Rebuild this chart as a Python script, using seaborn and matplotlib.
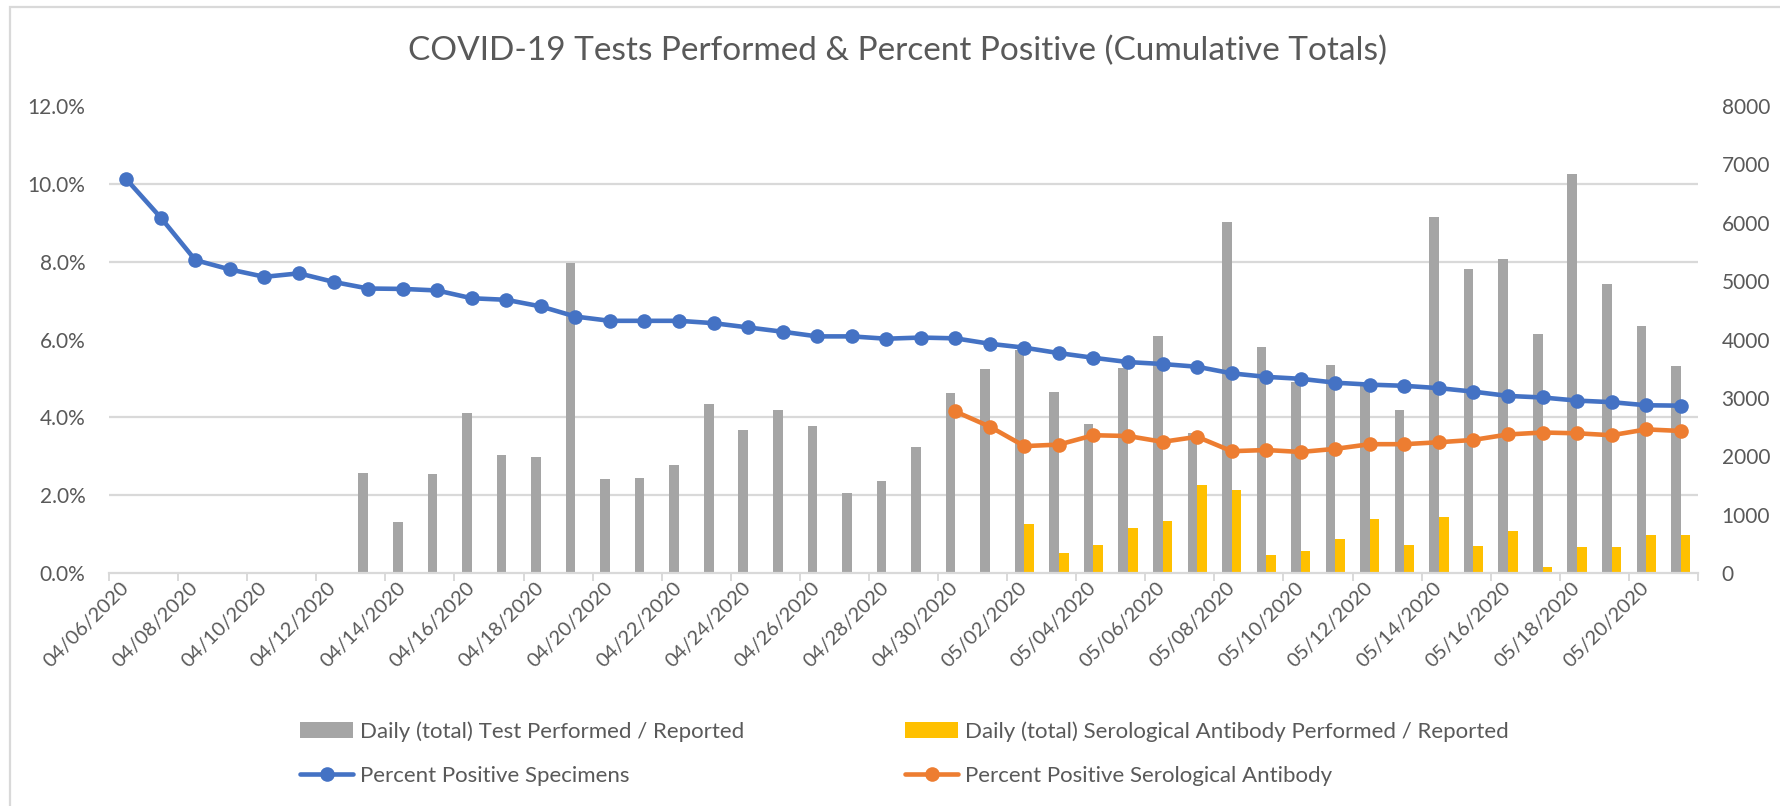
import matplotlib
matplotlib.use("Agg")
import matplotlib.pyplot as plt
from matplotlib.lines import Line2D
from matplotlib.patches import Patch, Rectangle
from matplotlib.ticker import FuncFormatter
import numpy as np
import pandas as pd
import seaborn as sns

# dates on the category axis
dates = list(pd.date_range("2020-04-06", "2020-05-21").strftime("%m/%d/%Y"))

# daily tests (right axis), none reported before 04/13
tests = [np.nan] * 7 + [1720, 870, 1695, 2745, 2015, 1995, 5315, 1610, 1625, 1855,
                        2895, 2455, 2785, 2525, 1370, 1575, 2155, 3085, 3495, 3820,
                        3100, 2550, 3505, 4055, 2395, 6015, 3870, 3280, 3555, 3200,
                        2785, 6105, 5200, 5375, 4100, 6830, 4950, 4225, 3545]

# daily serological tests, starting 05/02
serology = [np.nan] * 26 + [840, 350, 475, 770, 890, 1505, 1420, 310, 385, 575,
                            930, 480, 965, 460, 720, 105, 450, 440, 650, 645]

# cumulative percent positive (left axis)
pct_specimens = [10.12, 9.13, 8.04, 7.80, 7.61, 7.70, 7.48, 7.31, 7.30, 7.26,
                 7.06, 7.02, 6.85, 6.59, 6.48, 6.48, 6.48, 6.42, 6.31, 6.20,
                 6.08, 6.08, 6.02, 6.05, 6.03, 5.89, 5.79, 5.65, 5.53, 5.42,
                 5.37, 5.30, 5.13, 5.04, 4.99, 4.89, 4.84, 4.81, 4.75, 4.66,
                 4.55, 4.51, 4.43, 4.39, 4.31, 4.30]

# serological percent positive, starting 04/30
sero_start = 24
pct_serology = [4.15, 3.76, 3.26, 3.30, 3.54, 3.52, 3.37, 3.50, 3.13, 3.16, 3.11,
                3.19, 3.31, 3.31, 3.36, 3.42, 3.56, 3.61, 3.59, 3.54, 3.69, 3.65]

lab_tests = "Daily (total) Test Performed / Reported"
lab_sero = "Daily (total) Serological Antibody Performed / Reported"
lab_pct = "Percent Positive Specimens"
lab_pct_sero = "Percent Positive Serological Antibody"

GREY = "#A5A5A5"
YELLOW = "#FFC000"
BLUE = "#4472C4"
ORANGE = "#ED7D31"
GRID = "#D9D9D9"
TXT = "#595959"

sns.set_theme(style="white")
plt.rcParams["font.family"] = ["Lato", "DejaVu Sans"]
plt.rcParams["text.color"] = TXT

bars = pd.DataFrame({
    "date": dates * 2,
    "count": tests + serology,
    "series": [lab_tests] * len(dates) + [lab_sero] * len(dates),
})

W, H = 1781, 806
fig = plt.figure(figsize=(W / 100, H / 100), dpi=100)
ax = fig.add_axes([109 / W, 1 - 573 / H, (1698 - 109) / W, (573 - 106) / H])

sns.barplot(data=bars, x="date", y="count", hue="series", order=dates,
            hue_order=[lab_tests, lab_sero], palette=[GREY, YELLOW],
            width=0.556, saturation=1, errorbar=None, linewidth=0,
            legend=False, ax=ax)

n = len(dates)
ax2 = ax.twinx()

ax.set_xlim(-0.5, n - 0.5)
ax.set_ylim(0, 8000)
ax.set_yticks(np.arange(0, 8001, 1000))
ax.tick_params(axis="y", length=0, pad=17, labelsize=15, labelcolor=TXT)
# gridlines follow the percent axis (every 2%)
ax.set_yticks(np.linspace(0, 8000, 7)[1:], minor=True)
ax.grid(False)
ax.grid(which="minor", axis="y", color=GRID, linewidth=1.6)
ax.tick_params(axis="y", which="minor", length=0)
ax.set_axisbelow(True)

# tick marks between every two days, labels on every second day
ax.set_xticks(np.arange(-0.5, n, 2), labels=[""] * len(np.arange(-0.5, n, 2)))
ax.tick_params(axis="x", which="major", length=6, width=1.4, color=GRID,
               direction="out", bottom=True)
ax.set_xticks(np.arange(0, n, 2), labels=dates[::2], minor=True)
ax.tick_params(axis="x", which="minor", length=0, pad=9, labelsize=14.5,
               labelcolor=TXT)
for t in ax.get_xticklabels(minor=True):
    t.set_rotation(45)
    t.set_ha("right")
    t.set_va("center")
    t.set_rotation_mode("anchor")
ax.set_xlabel("")
ax.set_ylabel("")
for s in ["top", "left", "right"]:
    ax.spines[s].set_visible(False)
ax.spines["bottom"].set_color(GRID)
ax.spines["bottom"].set_linewidth(1.6)

pos = np.arange(n)
sns.lineplot(x=pos, y=np.array(pct_specimens) / 100, color=BLUE, linewidth=3.3,
             marker="o", markersize=10.5, markeredgewidth=0, ax=ax2)
sns.lineplot(x=pos[sero_start:], y=np.array(pct_serology) / 100, color=ORANGE,
             linewidth=3.3, marker="o", markersize=10.5, markeredgewidth=0,
             ax=ax2)
ax2.set_ylim(0, 0.12)
ax2.set_yticks(np.arange(0, 0.1201, 0.02))
ax2.yaxis.set_major_formatter(FuncFormatter(lambda v, p: f"{v * 100:.1f}%"))
ax2.yaxis.tick_left()
ax2.tick_params(axis="y", length=0, pad=17, labelsize=15, labelcolor=TXT)
ax2.set_xlim(-0.5, n - 0.5)
ax2.set_xlabel("")
ax2.set_ylabel("")
for s in ax2.spines.values():
    s.set_visible(False)
# twinx moved the count ticks to the left, put them back on the right
ax.yaxis.tick_right()

fig.text(897 / W, 1 - 51 / H,
         "COVID-19 Tests Performed & Percent Positive (Cumulative Totals)",
         ha="center", va="center", fontsize=24, color=TXT)

# legend in two columns, placed like the original
leg_kw = dict(frameon=False, fontsize=16, handlelength=2.4, handletextpad=0.32,
              labelspacing=1.1, borderpad=0, borderaxespad=0, loc="center left",
              labelcolor=TXT)
h_tests = Patch(facecolor=GREY, edgecolor="none")
h_sero = Patch(facecolor=YELLOW, edgecolor="none")
h_pct = Line2D([], [], color=BLUE, linewidth=3.3, marker="o", markersize=10.5,
               markeredgewidth=0, solid_capstyle="round")
h_pct_sero = Line2D([], [], color=ORANGE, linewidth=3.3, marker="o",
                    markersize=10.5, markeredgewidth=0, solid_capstyle="round")
fig.legend([h_tests, h_pct], [lab_tests, lab_pct],
           bbox_to_anchor=(300 / W, 1 - 753.5 / H), **leg_kw)
fig.legend([h_sero, h_pct_sero], [lab_sero, lab_pct_sero],
           bbox_to_anchor=(905 / W, 1 - 753.5 / H), **leg_kw)

# chart border (cut off at right and bottom in the original)
fig.add_artist(Rectangle((10 / W, -0.2), 1.5, 1.2 - 7 / H,
                         transform=fig.transFigure, fill=False,
                         edgecolor=GRID, linewidth=1.6))

fig.savefig("out.png", dpi=100)
